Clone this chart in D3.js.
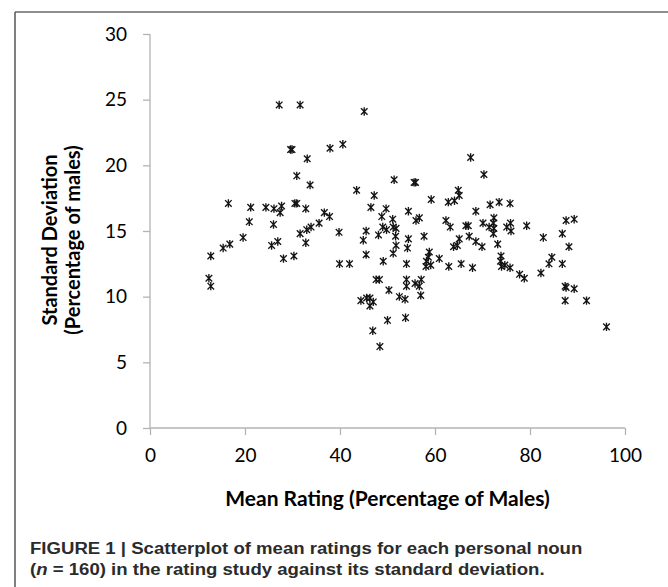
<!DOCTYPE html>
<html>
<head>
<meta charset="utf-8">
<script src="https://cdn.jsdelivr.net/npm/d3@7"></script>
<style>
    body { margin: 0; background: #fff; }
    svg { display: block; }
</style>
</head>
<body>
<svg id="chart" width="668" height="587"></svg>
<script>
// values (x = mean rating, y = standard deviation)
var meanRating = [
    16.5, 21.2, 20.9, 19.6, 16.8, 15.4, 12.8, 12.4, 12.8,
    27.2, 31.6, 45.1, 29.6, 29.9, 37.9, 40.6, 33.1, 30.9, 33.7, 43.5,
    24.4, 26.1, 27.7, 27.4, 30.5, 30.9, 32.8, 36.7, 37.8, 35.6, 33.9,
    33.0, 31.6, 39.8, 26.0, 26.9, 25.6, 32.8, 28.1, 30.3, 39.9, 42.0,
    45.5, 44.9, 45.5, 44.4, 45.6,
    67.5, 70.3, 51.4, 55.6, 55.9, 47.2, 59.2, 64.9, 65.1, 62.8, 64.1,
    71.6, 46.5, 49.7, 54.4, 56.7, 56.0, 68.6, 48.8, 51.1, 49.0, 49.8,
    51.2, 51.8, 62.3, 63.2, 66.5, 67.0, 70.1, 71.4, 48.1, 51.7, 54.4,
    57.7, 65.1, 67.2, 68.6, 69.9, 51.8, 54.2, 63.9, 64.7, 51.2, 58.8,
    58.6, 58.2, 59.1, 58.1, 60.9, 49.1, 54.0, 62.9, 65.5, 67.9, 47.6,
    48.3, 54.0, 57.1, 55.8, 56.7, 54.0, 50.3, 57.0, 52.5, 53.7, 46.3,
    47.0, 46.3, 50.0, 53.8, 46.9, 48.4,
    73.5, 75.8, 72.4, 72.3, 72.4, 72.3, 75.1, 75.9, 76.0, 79.3, 82.8,
    86.8, 87.6, 89.3, 88.2, 73.2, 73.9, 73.8, 74.0, 74.7, 75.8, 77.8,
    78.8, 82.3, 84.0, 84.6, 86.8, 87.4, 87.6, 89.3, 87.4, 91.9, 96.1
];
var stdDev = [
    17.1, 16.8, 15.7, 14.5, 14.0, 13.7, 13.1, 11.4, 10.8,
    24.6, 24.6, 24.1, 21.2, 21.2, 21.3, 21.6, 20.5, 19.2, 18.5, 18.1,
    16.8, 16.7, 16.9, 16.4, 17.1, 17.1, 16.7, 16.4, 16.1, 15.6, 15.3,
    15.1, 14.8, 14.9, 15.5, 14.2, 13.9, 14.1, 12.9, 13.1, 12.5, 12.5,
    15.0, 14.3, 13.2, 9.7, 9.9,
    20.6, 19.3, 18.9, 18.7, 18.7, 17.7, 17.4, 18.1, 17.7, 17.2, 17.3,
    17.0, 16.8, 16.7, 16.5, 16.0, 15.8, 16.5, 16.1, 15.9, 15.3, 15.1,
    15.3, 15.2, 15.8, 15.3, 15.4, 15.4, 15.6, 15.3, 14.7, 14.6, 14.4,
    14.6, 14.4, 14.6, 14.2, 13.8, 13.9, 13.7, 13.8, 13.9, 13.3, 13.4,
    13.0, 12.7, 12.4, 12.3, 12.9, 12.7, 12.5, 12.3, 12.5, 12.2, 11.3,
    11.3, 11.3, 11.3, 11.0, 10.8, 10.8, 10.5, 10.1, 10.0, 9.8, 9.9,
    9.6, 9.3, 8.2, 8.4, 7.4, 6.2,
    17.2, 17.1, 16.0, 15.6, 15.2, 14.8, 15.3, 15.6, 15.0, 15.4, 14.5,
    14.8, 15.8, 15.9, 13.8, 14.0, 13.1, 12.7, 12.3, 12.4, 12.2, 11.7,
    11.4, 11.8, 12.5, 13.0, 12.5, 10.8, 10.7, 10.6, 9.7, 9.7, 7.7
];
var xTicks = [0, 20, 40, 60, 80, 100];
var yTicks = [0, 5, 10, 15, 20, 25, 30];
var xTitle = "Mean Rating (Percentage of Males)";
var yTitle = ["Standard Deviation", "(Percentage of males)"];
var caption = [
    "FIGURE 1 | Scatterplot of mean ratings for each personal noun",
    "(n = 160) in the rating study against its standard deviation."
];

var svg = d3.select("#chart");
var plot = { left: 150, right: 625, top: 34, bottom: 428 };
var axisColor = "#b3b3b3";
var labelFont = "Lato, 'Open Sans', sans-serif";

var x = d3.scaleLinear().domain([0, 100]).range([plot.left, plot.right]);
var y = d3.scaleLinear().domain([0, 30]).range([plot.bottom, plot.top]);

// figure frame: top and left rules only
svg.append("line")
    .attr("x1", 15).attr("x2", 668).attr("y1", 12).attr("y2", 12)
    .attr("stroke", "#8e8e8e").attr("stroke-width", 2);
svg.append("line")
    .attr("x1", 15).attr("x2", 15).attr("y1", 12).attr("y2", 587)
    .attr("stroke", "#555").attr("stroke-width", 1.5);

// axes
var xAxis = svg.append("g")
    .attr("transform", "translate(0," + plot.bottom + ")")
    .call(d3.axisBottom(x).tickValues(xTicks).tickSize(7).tickPadding(14).tickFormat(d3.format("d")));
var yAxis = svg.append("g")
    .attr("transform", "translate(" + plot.left + ",0)")
    .call(d3.axisLeft(y).tickValues(yTicks).tickSize(7).tickPadding(16).tickFormat(d3.format("d")));

[xAxis, yAxis].forEach(function (g) {
    g.select(".domain").attr("stroke", axisColor).attr("stroke-width", 1.3);
    g.selectAll(".tick line").attr("stroke", axisColor).attr("stroke-width", 1.3);
    g.selectAll(".tick text")
        .attr("fill", "#000")
        .style("font-family", labelFont)
        .style("font-size", "19px");
});
// d3 draws outer tick stubs on the domain; keep them flat to match
xAxis.select(".domain").attr("d", "M" + plot.left + ",0H" + plot.right);
yAxis.select(".domain").attr("d", "M0," + plot.bottom + "V" + plot.top);

// axis titles
svg.append("text")
    .attr("x", (plot.left + plot.right) / 2)
    .attr("y", 506)
    .attr("text-anchor", "middle")
    .style("font-family", labelFont)
    .style("font-size", "21px")
    .style("font-weight", "bold")
    .text(xTitle);

svg.append("g")
    .attr("transform", "translate(57,240) rotate(-90)")
    .selectAll("text")
    .data(yTitle)
    .enter()
    .append("text")
    .attr("x", 0)
    .attr("y", function (d, i) { return i * 23; })
    .attr("text-anchor", "middle")
    .style("font-family", labelFont)
    .style("font-size", "20px")
    .style("font-weight", "bold")
    .text(function (d) { return d; });

// asterisk markers
var points = meanRating.map(function (m, i) { return { x: m, y: stdDev[i] }; });
svg.append("g")
    .selectAll("path")
    .data(points)
    .enter()
    .append("path")
    .attr("transform", function (d) { return "translate(" + x(d.x) + "," + y(d.y) + ")"; })
    .attr("d", "M-3.3,-3.3L3.3,3.3M-3.3,3.3L3.3,-3.3M0,-4.2L0,4.2")
    .attr("fill", "none")
    .attr("stroke", "#141414")
    .attr("stroke-width", 1.35);

// caption
var cap = svg.append("g").attr("transform", "translate(30,0)");
var capText = cap.selectAll("text")
    .data(caption)
    .enter()
    .append("text")
    .attr("x", 0)
    .attr("y", function (d, i) { return 554 + i * 21; })
    .attr("fill", "#2b2b2b")
    .style("font-family", "'Liberation Sans', Arial, sans-serif")
    .style("font-size", "17px")
    .style("font-weight", "bold");
capText.each(function (d) {
    var t = d3.select(this);
    if (d.charAt(0) === "(") {
        t.append("tspan").text("(");
        t.append("tspan").style("font-style", "italic").text("n");
        t.append("tspan").text(d.slice(2));
    } else {
        t.text(d);
    }
});
// the caption face is condensed; squeeze both lines by the same factor
var firstLen = capText.node().getComputedTextLength();
var squeeze = 553 / firstLen;
capText.attr("transform", "scale(" + squeeze + ",1)");
</script>
</body>
</html>
